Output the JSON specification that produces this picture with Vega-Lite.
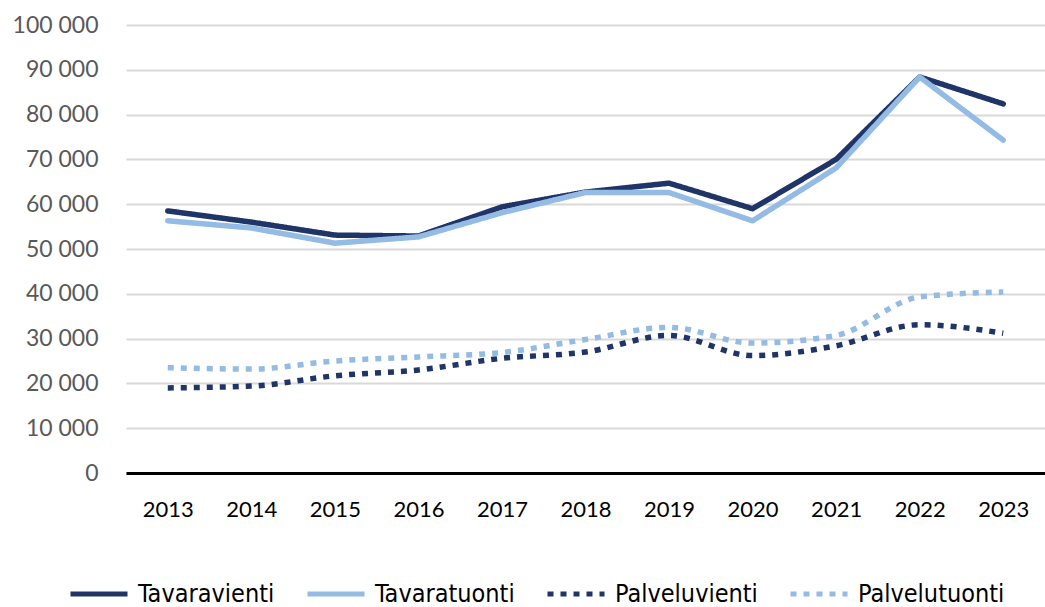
{
  "$schema": "https://vega.github.io/schema/vega-lite/v6.json",
  "autosize": "none",
  "width": 919,
  "height": 448,
  "padding": {"left": 126, "top": 25, "right": 0, "bottom": 134},
  "background": "white",
  "config": {
    "view": {"stroke": null},
    "locale": {"number": {"decimal": ",", "thousands": " ", "grouping": [3], "currency": ["", " €"]}},
    "font": "Lato"
  },
  "data": {"values": [
    {"year": "2013", "series": "Tavaravienti", "value": 58500},
    {"year": "2014", "series": "Tavaravienti", "value": 56000},
    {"year": "2015", "series": "Tavaravienti", "value": 53100},
    {"year": "2016", "series": "Tavaravienti", "value": 52900},
    {"year": "2017", "series": "Tavaravienti", "value": 59400},
    {"year": "2018", "series": "Tavaravienti", "value": 62700},
    {"year": "2019", "series": "Tavaravienti", "value": 64700},
    {"year": "2020", "series": "Tavaravienti", "value": 59000},
    {"year": "2021", "series": "Tavaravienti", "value": 70000},
    {"year": "2022", "series": "Tavaravienti", "value": 88400},
    {"year": "2023", "series": "Tavaravienti", "value": 82400},
    {"year": "2013", "series": "Tavaratuonti", "value": 56300},
    {"year": "2014", "series": "Tavaratuonti", "value": 54700},
    {"year": "2015", "series": "Tavaratuonti", "value": 51300},
    {"year": "2016", "series": "Tavaratuonti", "value": 52700},
    {"year": "2017", "series": "Tavaratuonti", "value": 58100},
    {"year": "2018", "series": "Tavaratuonti", "value": 62600},
    {"year": "2019", "series": "Tavaratuonti", "value": 62600},
    {"year": "2020", "series": "Tavaratuonti", "value": 56300},
    {"year": "2021", "series": "Tavaratuonti", "value": 68100},
    {"year": "2022", "series": "Tavaratuonti", "value": 88400},
    {"year": "2023", "series": "Tavaratuonti", "value": 74300},
    {"year": "2013", "series": "Palveluvienti", "value": 19000},
    {"year": "2014", "series": "Palveluvienti", "value": 19400},
    {"year": "2015", "series": "Palveluvienti", "value": 21700},
    {"year": "2016", "series": "Palveluvienti", "value": 23000},
    {"year": "2017", "series": "Palveluvienti", "value": 25600},
    {"year": "2018", "series": "Palveluvienti", "value": 27000},
    {"year": "2019", "series": "Palveluvienti", "value": 30700},
    {"year": "2020", "series": "Palveluvienti", "value": 26200},
    {"year": "2021", "series": "Palveluvienti", "value": 28400},
    {"year": "2022", "series": "Palveluvienti", "value": 33100},
    {"year": "2023", "series": "Palveluvienti", "value": 31200},
    {"year": "2013", "series": "Palvelutuonti", "value": 23500},
    {"year": "2014", "series": "Palvelutuonti", "value": 23200},
    {"year": "2015", "series": "Palvelutuonti", "value": 25000},
    {"year": "2016", "series": "Palvelutuonti", "value": 25900},
    {"year": "2017", "series": "Palvelutuonti", "value": 26900},
    {"year": "2018", "series": "Palvelutuonti", "value": 29800},
    {"year": "2019", "series": "Palvelutuonti", "value": 32500},
    {"year": "2020", "series": "Palvelutuonti", "value": 29000},
    {"year": "2021", "series": "Palvelutuonti", "value": 30700},
    {"year": "2022", "series": "Palvelutuonti", "value": 39300},
    {"year": "2023", "series": "Palvelutuonti", "value": 40400}
  ]},
  "encoding": {
    "x": {
      "field": "year", "type": "ordinal",
      "scale": {"type": "point", "padding": 0.5},
      "axis": {"title": null, "labelAngle": 0, "ticks": false, "domainColor": "#000000", "domainWidth": 3,
               "labelFontSize": 22, "labelColor": "#000000", "labelPadding": 26, "grid": false}
    },
    "y": {
      "field": "value", "type": "quantitative",
      "scale": {"domain": [0, 100000], "nice": false},
      "axis": {"title": null, "values": [0,10000,20000,30000,40000,50000,60000,70000,80000,90000,100000],
               "format": ",d", "ticks": false, "domain": false, "gridColor": "#d9d9d9", "gridWidth": 2,
               "labelFontSize": 23, "labelColor": "#595959", "labelPadding": 28}
    },
    "color": {
      "field": "series", "type": "nominal",
      "scale": {"domain": ["Tavaravienti", "Tavaratuonti", "Palveluvienti", "Palvelutuonti"],
                "range": ["#1f3467", "#93bbe3", "#1f3467", "#93bbe3"]},
      "legend": {"title": null, "orient": "none", "direction": "horizontal", "legendX": -58, "legendY": 538,
                 "symbolType": "stroke", "symbolSize": 3249, "symbolStrokeWidth": 5, "labelFontSize": 25,
                 "labelFont": "DejaVu Sans Condensed",
                 "labelColor": "#000000", "columnPadding": 22, "labelOffset": 8, "labelLimit": 300}
    },
    "strokeDash": {
      "field": "series", "type": "nominal",
      "scale": {"domain": ["Tavaravienti", "Tavaratuonti", "Palveluvienti", "Palvelutuonti"],
                "range": [[1, 0], [1, 0], [6, 7], [6, 7]]},
      "legend": null
    }
  },
  "layer": [
    {
      "transform": [{"filter": "datum.series === 'Tavaravienti' || datum.series === 'Tavaratuonti'"}],
      "mark": {"type": "line", "strokeWidth": 5.5, "strokeCap": "round", "strokeJoin": "round"}
    },
    {
      "transform": [{"filter": "datum.series === 'Palveluvienti' || datum.series === 'Palvelutuonti'"}],
      "mark": {"type": "line", "strokeWidth": 5.5, "interpolate": "monotone"}
    }
  ]
}
